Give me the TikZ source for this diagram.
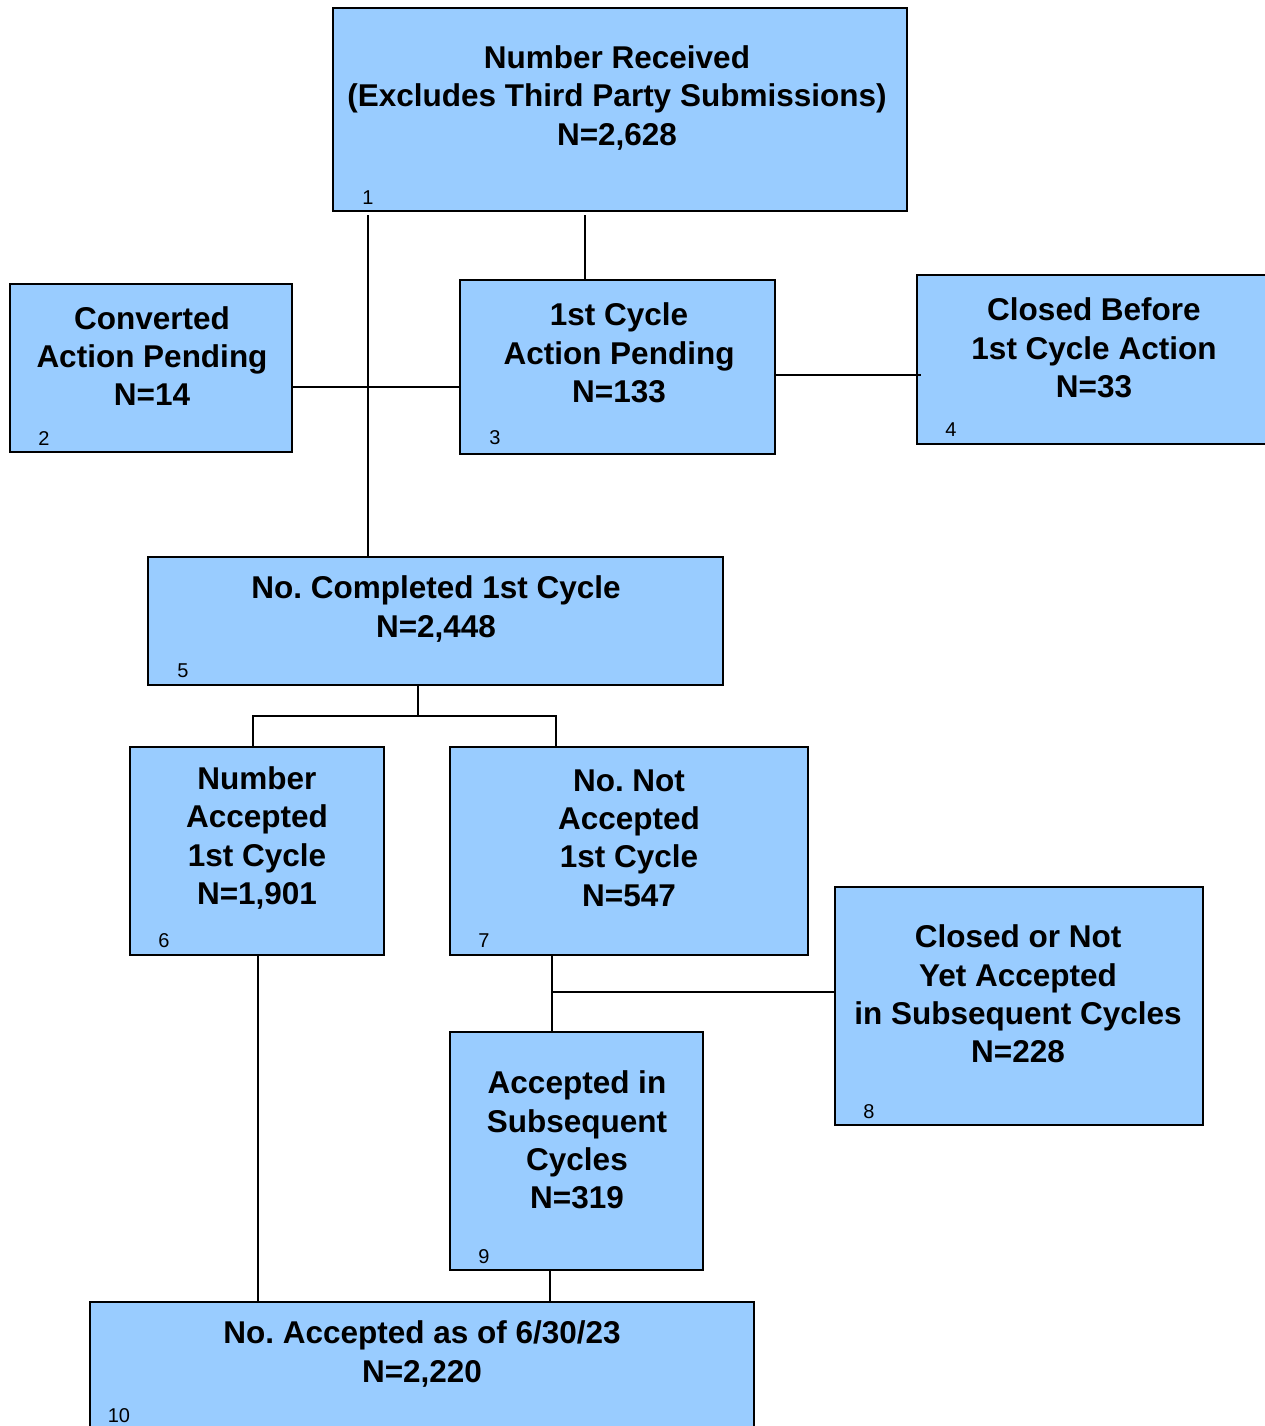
\documentclass[tikz,border=0pt]{standalone}
\usepackage{fontspec}
\setmainfont{Liberation Sans}
\frenchspacing
\usetikzlibrary{calc}
\definecolor{boxfill}{HTML}{99CCFF}
\tikzset{
  box/.style={draw=black, line width=1.3pt, fill=boxfill, anchor=north west, inner sep=0pt, outer sep=0pt},
  lbl/.style={align=center, inner sep=0pt, font=\bfseries\fontsize{31.5}{38.3}\selectfont},
  num/.style={inner sep=0pt, font=\fontsize{20}{22}\selectfont},
  conn/.style={draw=black, line width=1.3pt}
}
\begin{document}
\begin{tikzpicture}[x=1pt,y=-1pt]
\useasboundingbox (0,0) rectangle (1264,1426);
% boxes
\node[box, minimum width=574pt, minimum height=203pt] (b1) at (333,8) {};
\node[box, minimum width=282pt, minimum height=168pt] (b2) at (10,284) {};
\node[box, minimum width=315pt, minimum height=174pt] (b3) at (460,280) {};
\node[box, minimum width=360pt, minimum height=169pt] (b4) at (917,275) {};
\node[box, minimum width=575pt, minimum height=128pt] (b5) at (148,557) {};
\node[box, minimum width=254pt, minimum height=208pt] (b6) at (130,747) {};
\node[box, minimum width=358pt, minimum height=208pt] (b7) at (450,747) {};
\node[box, minimum width=368pt, minimum height=238pt] (b8) at (835,887) {};
\node[box, minimum width=253pt, minimum height=238pt] (b9) at (450,1032) {};
\node[box, minimum width=664pt, minimum height=140pt] (b10) at (90,1302) {};
% labels
\node[lbl] (t1) at (617,98) {Number Received\\(Excludes Third Party Submissions)\\N=2,628};
\node[lbl] (t2) at (152,356) {Converted\\Action Pending\\N=14};
\node[lbl] (t3) at (619,353) {1st Cycle\\Action Pending\\N=133};
\node[lbl] (t4) at (1094,348) {Closed Before\\1st Cycle Action\\N=33};
\node[lbl] (t5) at (436,609) {No. Completed 1st Cycle\\N=2,448};
\node[lbl] (t6) at (257,838) {Number\\Accepted\\1st Cycle\\N=1,901};
\node[lbl] (t7) at (629,838) {No. Not\\Accepted\\1st Cycle\\N=547};
\node[lbl] (t8) at (1018,994) {Closed or Not\\Yet Accepted\\in Subsequent Cycles\\N=228};
\node[lbl] (t9) at (577,1140) {Accepted in\\Subsequent\\Cycles\\N=319};
\node[lbl] (t10) at (422,1354) {No. Accepted as of 6/30/23\\N=2,220};
% numbers
\node[num] (n1) at (368,198) {1};
\node[num] (n2) at (44,439) {2};
\node[num] (n3) at (495,438) {3};
\node[num] (n4) at (951,430) {4};
\node[num] (n5) at (183,671) {5};
\node[num] (n6) at (164,941) {6};
\node[num] (n7) at (484,941) {7};
\node[num] (n8) at (869,1112) {8};
\node[num] (n9) at (484,1257) {9};
\node[num] (n10) at (119,1416) {10};
% connectors
\coordinate (c1) at ($(b1.south west)+(35,4)$);
\draw[conn] (c1) -- (c1 |- b5.north);
\coordinate (c2) at ($(b2.north east)+(0,103)$);
\draw[conn] (c2) -- (c2 -| b3.west);
\coordinate (c3) at ($(b1.south west)+(252,4)$);
\draw[conn] (c3) -- (c3 |- b3.north);
\coordinate (c4) at ($(b3.north east)+(0,95)$);
\draw[conn] (c4) -- ($(c4 -| b4.west)+(4,0)$);
\coordinate (c5) at ($(b5.south west)+(270,0)$);
\coordinate (c5m) at ($(c5)+(0,31)$);
\coordinate (c6) at ($(b6.north west)+(123,0)$);
\coordinate (c7) at ($(b7.north west)+(106,0)$);
\draw[conn] (c5) -- (c5m);
\draw[conn] (c6) -- (c6 |- c5m) -- (c7 |- c5m) -- (c7);
\coordinate (c8) at ($(b7.south west)+(102,0)$);
\draw[conn] (c8) -- (c8 |- b9.north);
\coordinate (c9) at ($(c8)+(0,37)$);
\draw[conn] (c9) -- (c9 -| b8.west);
\coordinate (c10) at ($(b6.south west)+(128,0)$);
\draw[conn] (c10) -- (c10 |- b10.north);
\coordinate (c11) at ($(b9.south west)+(100,0)$);
\draw[conn] (c11) -- (c11 |- b10.north);
\end{tikzpicture}
\end{document}
